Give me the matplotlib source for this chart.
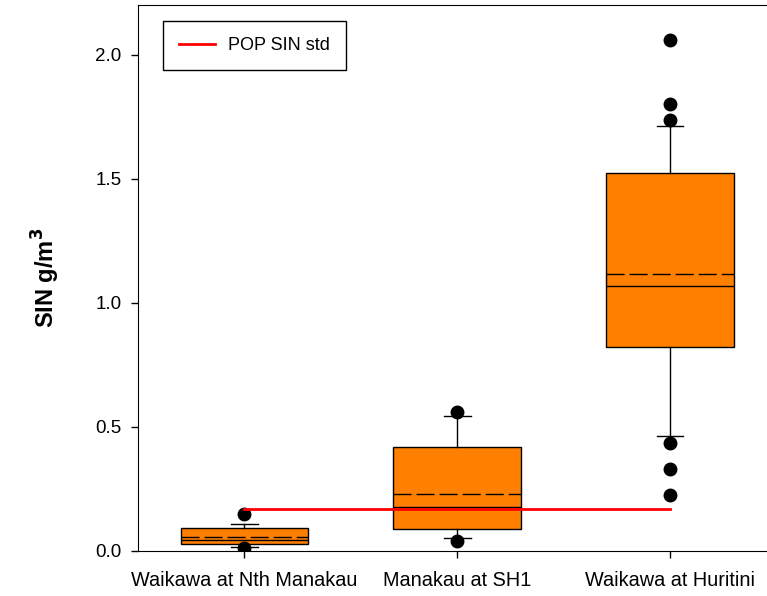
import matplotlib
matplotlib.use("Agg")
import matplotlib.pyplot as plt

plt.rcParams['font.family'] = ['Liberation Sans', 'DejaVu Sans']

# Site names and summary statistics of SIN (g/m3)
sites = ["Waikawa at Nth Manakau", "Manakau at SH1", "Waikawa at Huritini"]
q1 = [0.025, 0.088, 0.822]
median = [0.042, 0.174, 1.066]
q3 = [0.090, 0.419, 1.523]
mean = [0.053, 0.228, 1.114]
whisker_low = [0.015, 0.052, 0.462]
whisker_high = [0.105, 0.542, 1.714]
outliers = [
    [0.146, 0.009],
    [0.558, 0.040],
    [2.058, 1.799, 1.735, 0.435, 0.330, 0.223],
]

# Population SIN standard, drawn across the sites
std_x = [1, 3]
std_y = [0.166, 0.166]

yticks = [0.0, 0.5, 1.0, 1.5, 2.0]

fig = plt.figure(figsize=(7.67, 5.96), dpi=100)
ax = fig.add_axes([0.18, 0.0763, 0.8325, 0.9153])

positions = list(range(1, len(sites) + 1))
stats = []
for i in range(len(sites)):
    stats.append(dict(
        label=sites[i], q1=q1[i], med=median[i], q3=q3[i], mean=mean[i],
        whislo=whisker_low[i], whishi=whisker_high[i], fliers=outliers[i],
    ))

ax.bxp(
    stats, positions=positions, widths=0.6, capwidths=0.125,
    showmeans=True, meanline=True, patch_artist=True,
    boxprops=dict(facecolor="#FF8000", edgecolor="black", linewidth=1.0),
    medianprops=dict(color="black", linewidth=1.0),
    meanprops=dict(color="black", linewidth=1.0, linestyle=(0, (13, 3.6))),
    whiskerprops=dict(color="black", linewidth=1.0),
    capprops=dict(color="black", linewidth=1.0),
    flierprops=dict(marker="o", markerfacecolor="black", markeredgecolor="black",
                    markersize=9),
)

ax.plot(std_x, std_y, color="red", linewidth=2, label="POP SIN std", zorder=5)

ax.set_xlim(0.5, 3.5)
ax.set_ylim(0, 2.2)
ax.set_yticks(yticks)
ax.set_yticklabels([f"{v:.1f}" for v in yticks])
ax.set_xticks(positions)
ax.set_xticklabels(sites)
ax.tick_params(axis="both", direction="out", length=5, width=1)
ax.tick_params(axis="y", labelsize=13.5, pad=7)
ax.tick_params(axis="x", labelsize=14.3, pad=10)

ax.set_ylabel("SIN g/m$^\\mathbf{3}$", fontsize=17, fontweight="bold", labelpad=24)

leg = ax.legend(loc="upper left", bbox_to_anchor=(0.039, 0.971), borderaxespad=0,
                fontsize=13, handlelength=2.0, handletextpad=0.7, fancybox=False,
                framealpha=1, borderpad=0.9)
leg.get_frame().set_edgecolor("black")
leg.get_frame().set_linewidth(1.0)

fig.savefig("out.png", dpi=100)
